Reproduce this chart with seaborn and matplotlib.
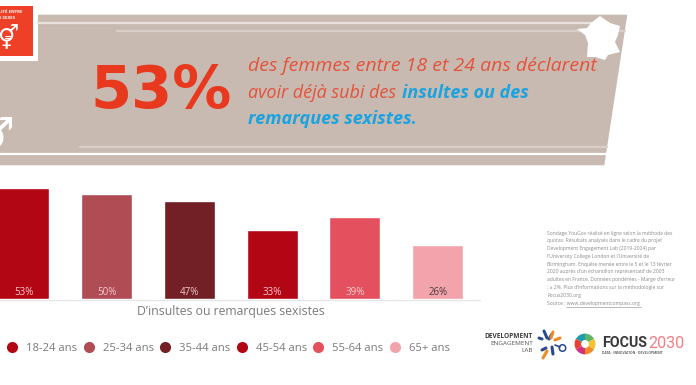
# -*- coding: utf-8 -*-
"""Infographie Focus 2030 : insultes ou remarques sexistes par tranche d'age."""

import numpy as np
import pandas as pd
import matplotlib
matplotlib.use("Agg")
import matplotlib.pyplot as plt
from matplotlib.lines import Line2D
from matplotlib.patches import Polygon, Rectangle
import seaborn as sns

age_groups = ["18-24 ans", "25-34 ans", "35-44 ans", "45-54 ans", "55-64 ans", "65+ ans"]
shares = [53, 50, 47, 33, 39, 26]
bar_colors = ["#B30615", "#AF4C54", "#721F25", "#B30615", "#E4505E", "#F3A3AB"]
label_colors = ["#F3C9CC", "#F3C9CC", "#F3C9CC", "#F3C9CC", "#F8D0D4", "#4A3A3C"]
chart_title = "D’insultes ou remarques sexistes"

source_lines = [
    "Sondage YouGov réalisé en ligne selon la méthode des",
    "quotas. Résultats analysés dans le cadre du projet",
    "Development Engagement Lab (2019-2024) par",
    "l’University College London et l’Université de",
    "Birmingham. Enquête menée entre le 5 et le 13 février",
    "2020 auprès d’un échantillon représentatif de 2003",
    "adultes en France. Données pondérées - Marge d’erreur",
    ": ± 2%. Plus d’informations sur la méthodologie sur",
    "Focus2030.org",
    "Source : www.developmentcompass.org",
]

ring_sizes = [1, 1, 1, 1, 1, 1]
ring_colors = ["#5DB56A", "#1F9BB0", "#E8402F", "#D42F7E", "#F08A24", "#F2C230"]

RED = "#E8391F"
BLUE = "#1BA3E0"
GREY = "#7A7A7A"
TAUPE = "#C8BAB0"
FONT = "Open Sans"

sns.set_theme(style="white")
plt.rcParams["font.family"] = [FONT, "DejaVu Sans"]

fig = plt.figure(figsize=(6.96, 3.85), dpi=100, facecolor="white")

# ── bars ─────────────────────────────────────────────────────────────────────
ax = fig.add_axes([0, 85.7 / 385, 1, 115 / 385])
df = pd.DataFrame({"age": age_groups, "share": shares})
sns.barplot(data=df, x="age", y="share", hue="age", palette=bar_colors,
            width=0.616, legend=False, ax=ax, saturation=1)
ax.set_xlim(-23.7 / 82.8, (696 - 23.7) / 82.8)
ax.set_ylim(0, 115 / 2.1)
ax.axis("off")
ax.patch.set_alpha(0)
ax.set_zorder(2)
for i, v in enumerate(shares):
    ax.text(i, 3.3, f"{v}%", ha="center", va="center", fontsize=7,
            color=label_colors[i])

# ── overlays in pixel coordinates ────────────────────────────────────────────
ov = fig.add_axes([0, 0, 1, 1], zorder=-1)
ov.set_xlim(0, 696)
ov.set_ylim(385, 0)
ov.axis("off")

top = fig.add_axes([0, 0, 1, 1], zorder=3)
top.set_xlim(0, 696)
top.set_ylim(385, 0)
top.axis("off")
top.patch.set_alpha(0)

# banner
ov.add_patch(Polygon([(38, 14.7), (627.3, 14.7), (604.3, 165.3), (0, 165.3),
                      (0, 61), (38, 61)], closed=True, fc=TAUPE, ec="none"))
ov.plot([38, 596], [23, 23], color="#E9E2DC", lw=1.6)
ov.plot([117, 625], [30.5, 30.5], color="#D9CFC8", lw=1.6)
ov.plot([80, 607], [146.5, 146.5], color="#D9CFC8", lw=1.6)
ov.plot([0, 607], [154.2, 154.2], color="white", lw=1.6)

# France
france_x = [577, 587, 591, 600, 610, 620, 618, 615, 620, 608, 605, 595, 587, 588, 585]
france_y = [29, 28, 23, 16, 23, 26, 35, 42, 52, 55, 60, 57, 57, 43, 35]
top.add_patch(Polygon(list(zip(france_x, france_y)), closed=True, fc="white", ec="none"))

# logo ODD 5
ov.add_patch(Rectangle((0, 6), 32.5, 50, fc="#EE4027", ec="none"))
top.text(23, 12, "ÉGALITÉ ENTRE", color="white", fontsize=3.2, ha="right", va="center",
         fontweight="bold")
top.text(15, 18, "LES SEXES", color="white", fontsize=3.2, ha="right", va="center",
         fontweight="bold")
top.text(8.5, 38.5, "⚥", color="white", fontsize=17, ha="center", va="center",
         family="DejaVu Sans")
top.plot([4.5, 10], [35.5, 35.5], color="white", lw=0.8)
top.plot([4.5, 10], [38, 38], color="white", lw=0.8)
top.text(14, 136, "♂", color="white", fontsize=32, ha="right", va="center",
         family="DejaVu Sans")

# big number and sentence
top.text(90, 91.5, "53%", color=RED, fontsize=42.5, fontweight="bold", ha="left",
         va="center", family="DejaVu Sans")
top.text(248, 66, "des femmes entre 18 et 24 ans déclarent", color="#E4523C",
         fontsize=14, style="italic", va="center")
top.text(248, 92.5, "avoir déjà subi des", color="#E4523C", fontsize=13, style="italic",
         va="center")
top.text(402, 92.5, "insultes ou des", color=BLUE, fontsize=13, style="italic",
         fontweight="bold", va="center")
top.text(248, 119, "remarques sexistes.", color=BLUE, fontsize=13, style="italic",
         fontweight="bold", va="center")

# baseline + chart title
ov.plot([0, 480], [300, 300], color="#E6E6E6", lw=1)
top.text(231, 312, chart_title, color=GREY, fontsize=8.85, ha="center", va="center")

# legend
handles = [Line2D([], [], marker="o", ls="none", ms=8, mfc=c, mec="none") for c in bar_colors]
fig.legend(handles, age_groups, loc="center left",
           bbox_to_anchor=(3.6 / 696, 1 - 348.5 / 385),
           ncol=6, frameon=False, fontsize=8.1, labelcolor=GREY, columnspacing=0.27,
           handletextpad=0.49, handlelength=1.5, borderaxespad=0, borderpad=0)

# source note
for i, line in enumerate(source_lines):
    top.text(547, 233 + i * 7.8, line, color="#8A8A8A", fontsize=3.6, va="center")
top.plot([566, 641], [306.5, 306.5], color="#8A8A8A", lw=0.4)

# Development Engagement Lab
top.text(533, 336, "DEVELOPMENT", color="#3A3A3A", fontsize=4.7, fontweight="bold",
         ha="right", va="center")
top.text(533, 343.5, "ENGAGEMENT", color="#555555", fontsize=4.6, ha="right", va="center")
top.text(533, 351, "LAB", color="#555555", fontsize=4.6, ha="right", va="center")
ray_blue = [((539, 338), (542, 339)), ((544, 331), (547, 338)), ((552, 334), (549, 339)),
            ((546, 348), (542, 350)), ((552, 347), (553, 354))]
ray_orange = [((553, 332), (551, 338)), ((555, 340), (560, 338)), ((547, 351), (543, 358))]
for p, q in ray_blue:
    top.plot([p[0], q[0]], [p[1], q[1]], color="#2A4A8A", lw=2.2, solid_capstyle="round")
for p, q in ray_orange:
    top.plot([p[0], q[0]], [p[1], q[1]], color="#F08A24", lw=2.2, solid_capstyle="round")
top.plot([555, 560], [345, 347], color="#2A4A8A", lw=1.2)
top.scatter([562.5], [348], s=22, facecolors="none", edgecolors="#2A4A8A", linewidths=1.1)

# Focus 2030
ring_ax = fig.add_axes([(585 - 13) / 696, 1 - (344 + 13) / 385, 26 / 696, 26 / 385], zorder=4)
ring_ax.pie(ring_sizes, colors=ring_colors, radius=1, startangle=30,
            wedgeprops={"width": 0.62, "linewidth": 0})
ring_ax.set_aspect("auto")
top.text(602, 343, "FOCUS", color="#3A3A3A", fontsize=10.3, fontweight="bold",
         va="center", family="Roboto")
top.text(648, 343, "2030", color="#EE7F86", fontsize=11.6, va="center", family="Roboto")
top.text(602, 353, "DATA · INNOVATION · DEVELOPMENT", color="#666666", fontsize=2.4,
         va="center", fontweight="bold")

fig.savefig("out.png", dpi=100)
